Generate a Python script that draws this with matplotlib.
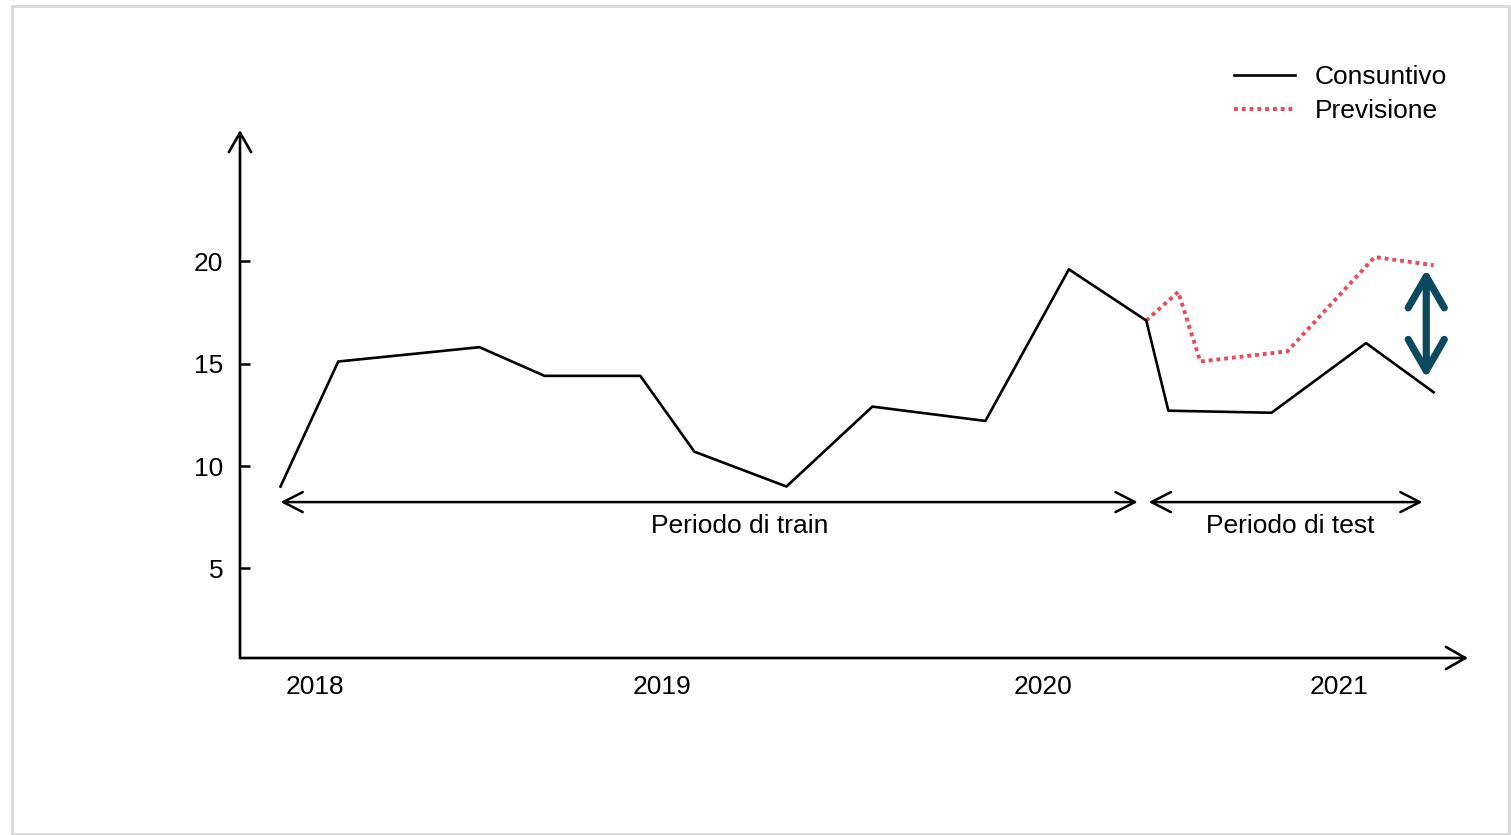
import matplotlib.pyplot as plt
from matplotlib.patches import Rectangle

plt.rcParams['font.family'] = ['Liberation Sans', 'DejaVu Sans']

# time axis in arbitrary units (0..100 along the drawn axis)
t_actual = [3.3, 8.0, 19.5, 24.8, 32.6, 37.0, 44.5, 51.5, 60.7, 67.5, 73.8, 75.6, 84.0, 91.7, 97.2]
actual = [9.0, 15.1, 15.8, 14.4, 14.4, 10.7, 9.0, 12.9, 12.2, 19.6, 17.1, 12.7, 12.6, 16.0, 13.6]
t_forecast = [73.8, 76.4, 78.2, 85.3, 92.4, 97.2]
forecast = [17.1, 18.5, 15.1, 15.6, 20.2, 19.8]

year_pos = [6.1, 34.4, 65.4, 89.5]
year_labels = ['2018', '2019', '2020', '2021']
y_ticks = [5, 10, 15, 20]

train_span = (3.3, 73.1)
test_span = (74.0, 96.3)
gap_span = (19.6, 14.3)
gap_x = 96.6

fig = plt.figure(figsize=(15.11, 8.35), dpi=100)
ax = fig.add_axes([240 / 1511, 1 - 658 / 835, 1228 / 1511, 528 / 835])
ax.set_xlim(0, 100)
ax.set_ylim(0.63, 26.4)
for s in ax.spines.values():
    s.set_visible(False)

# axes with arrow heads
arr = dict(arrowstyle='->,head_length=0.7,head_width=0.4', lw=1.9, color='black',
           mutation_scale=20, shrinkA=0, shrinkB=0)
ax.annotate('', xy=(0, 1), xytext=(0, 0), xycoords='axes fraction', arrowprops=arr)
ax.annotate('', xy=(1, 0), xytext=(0, 0), xycoords='axes fraction', arrowprops=arr)

ax.plot(t_actual, actual, color='black', lw=1.9, label='Consuntivo', zorder=3)
ax.plot(t_forecast, forecast, color='#E84A5F', lw=2.8, linestyle=(0, (1, 1)),
        label='Previsione', zorder=2)

ax.set_yticks(y_ticks)
ax.set_yticklabels([str(v) for v in y_ticks], fontsize=19)
ax.tick_params(axis='y', direction='in', length=7, width=1.8, pad=12)
ax.set_xticks(year_pos)
ax.set_xticklabels(year_labels, fontsize=19)
ax.tick_params(axis='x', length=0, pad=12)

per = dict(arrowstyle='<->,head_length=0.7,head_width=0.36', lw=1.8, color='black',
           mutation_scale=20, shrinkA=0, shrinkB=0)
ax.annotate('', xy=(train_span[0], 8.24), xytext=(train_span[1], 8.24), arrowprops=per)
ax.annotate('', xy=(test_span[0], 8.24), xytext=(test_span[1], 8.24), arrowprops=per)
ax.text(40.7, 7.05, 'Periodo di train', fontsize=19, ha='center', va='center')
ax.text(85.5, 7.05, 'Periodo di test', fontsize=19, ha='center', va='center')

gap = dict(arrowstyle='<->,head_length=0.9,head_width=0.52', lw=5.2, color='#0B4A5E',
           mutation_scale=25, shrinkA=0, shrinkB=0, capstyle='round', joinstyle='round')
ax.annotate('', xy=(gap_x, gap_span[0]), xytext=(gap_x, gap_span[1]), arrowprops=gap)

fig.legend(loc='upper left', bbox_to_anchor=(1234 / 1511, 1 - 65 / 835), frameon=False,
           fontsize=19, handlelength=2.3, handletextpad=0.75, labelspacing=0.38,
           borderpad=0, borderaxespad=0)

fig.patches.append(Rectangle((12 / 1511, 1 / 835), 1497 / 1511, 828 / 835, transform=fig.transFigure,
                             fill=False, edgecolor='#D9D9D9', lw=2))

fig.savefig('out.png', dpi=100)
